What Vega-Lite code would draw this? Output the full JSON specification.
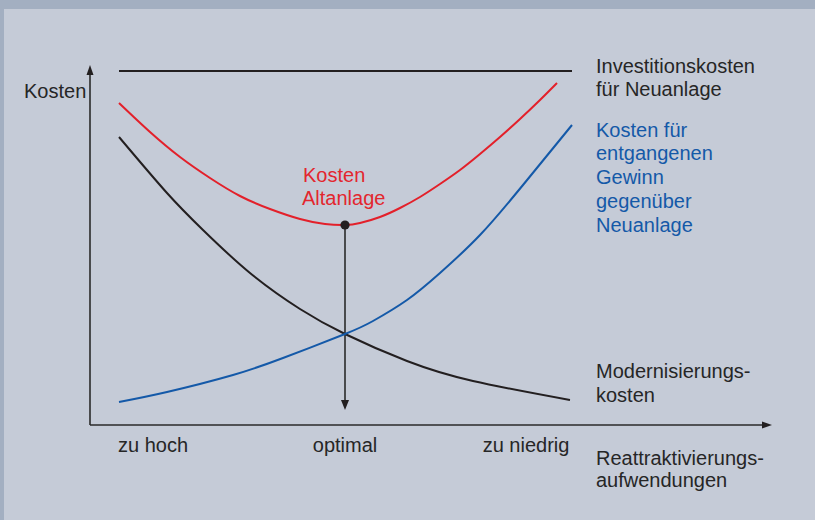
{
  "$schema": "https://vega.github.io/schema/vega-lite/v6.json",
  "width": 815,
  "height": 520,
  "autosize": {"type": "fit", "contains": "padding"},
  "padding": 0,
  "background": "#a3afc1",
  "config": {"view": {"stroke": null}, "axis": {"disable": true}, "legend": {"disable": true}},
  "datasets": {
    "frame": [{"x": -86, "x2": 725, "y": -95, "y2": 416}],
    "curves": [
      {"series": "Kosten Altanlage", "x": 29, "y": 322},
      {"series": "Kosten Altanlage", "x": 60, "y": 293},
      {"series": "Kosten Altanlage", "x": 90, "y": 268},
      {"series": "Kosten Altanlage", "x": 120, "y": 247},
      {"series": "Kosten Altanlage", "x": 150, "y": 229},
      {"series": "Kosten Altanlage", "x": 180, "y": 216},
      {"series": "Kosten Altanlage", "x": 210, "y": 206},
      {"series": "Kosten Altanlage", "x": 235, "y": 201},
      {"series": "Kosten Altanlage", "x": 255, "y": 200},
      {"series": "Kosten Altanlage", "x": 270, "y": 202},
      {"series": "Kosten Altanlage", "x": 290, "y": 208},
      {"series": "Kosten Altanlage", "x": 310, "y": 217},
      {"series": "Kosten Altanlage", "x": 330, "y": 228},
      {"series": "Kosten Altanlage", "x": 350, "y": 241},
      {"series": "Kosten Altanlage", "x": 370, "y": 255},
      {"series": "Kosten Altanlage", "x": 390, "y": 271},
      {"series": "Kosten Altanlage", "x": 410, "y": 288},
      {"series": "Kosten Altanlage", "x": 430, "y": 306},
      {"series": "Kosten Altanlage", "x": 450, "y": 325},
      {"series": "Kosten Altanlage", "x": 467, "y": 342},
      {"series": "Modernisierungskosten", "x": 29, "y": 288},
      {"series": "Modernisierungskosten", "x": 77, "y": 232},
      {"series": "Modernisierungskosten", "x": 113, "y": 195},
      {"series": "Modernisierungskosten", "x": 160, "y": 152},
      {"series": "Modernisierungskosten", "x": 210, "y": 116},
      {"series": "Modernisierungskosten", "x": 255, "y": 91},
      {"series": "Modernisierungskosten", "x": 317, "y": 64},
      {"series": "Modernisierungskosten", "x": 383, "y": 44},
      {"series": "Modernisierungskosten", "x": 480, "y": 25},
      {"series": "Entgangener Gewinn", "x": 29, "y": 23},
      {"series": "Entgangener Gewinn", "x": 77, "y": 33},
      {"series": "Entgangener Gewinn", "x": 143, "y": 50},
      {"series": "Entgangener Gewinn", "x": 193, "y": 67},
      {"series": "Entgangener Gewinn", "x": 255, "y": 91},
      {"series": "Entgangener Gewinn", "x": 283, "y": 104},
      {"series": "Entgangener Gewinn", "x": 317, "y": 125},
      {"series": "Entgangener Gewinn", "x": 350, "y": 152},
      {"series": "Entgangener Gewinn", "x": 390, "y": 190},
      {"series": "Entgangener Gewinn", "x": 433, "y": 240},
      {"series": "Entgangener Gewinn", "x": 482, "y": 300},
      {"series": "Investitionskosten", "x": 29, "y": 354},
      {"series": "Investitionskosten", "x": 482, "y": 354}
    ],
    "rules": [
      {"x": 0, "y": 0, "x2": 0, "y2": 352},
      {"x": 0, "y": 0, "x2": 674, "y2": 0},
      {"x": 255, "y": 200, "x2": 255, "y2": 22}
    ],
    "arrows": [
      {"dir": "up", "x": 0, "y": 355},
      {"dir": "right", "x": 677, "y": 0},
      {"dir": "down", "x": 255, "y": 20}
    ],
    "optimum": [{"x": 255, "y": 200}],
    "labels": [
      {"text": "Kosten", "x": -66, "y": 327, "kind": "black", "align": "left"},
      {"text": "Investitionskosten", "x": 506, "y": 352, "kind": "black", "align": "left"},
      {"text": "für Neuanlage", "x": 506, "y": 329, "kind": "black", "align": "left"},
      {"text": "Kosten für", "x": 506, "y": 288, "kind": "blue", "align": "left"},
      {"text": "entgangenen", "x": 506, "y": 265, "kind": "blue", "align": "left"},
      {"text": "Gewinn", "x": 506, "y": 241, "kind": "blue", "align": "left"},
      {"text": "gegenüber", "x": 506, "y": 217, "kind": "blue", "align": "left"},
      {"text": "Neuanlage", "x": 506, "y": 193, "kind": "blue", "align": "left"},
      {"text": "Kosten", "x": 213, "y": 243, "kind": "red", "align": "left"},
      {"text": "Altanlage", "x": 212, "y": 220, "kind": "red", "align": "left"},
      {"text": "Modernisierungs-", "x": 506, "y": 47, "kind": "black", "align": "left"},
      {"text": "kosten", "x": 506, "y": 23, "kind": "black", "align": "left"},
      {"text": "zu hoch", "x": 63, "y": -27, "kind": "black", "align": "center"},
      {"text": "optimal", "x": 255, "y": -27, "kind": "black", "align": "center"},
      {"text": "zu niedrig", "x": 436, "y": -27, "kind": "black", "align": "center"},
      {"text": "Reattraktivierungs-", "x": 506, "y": -40, "kind": "black", "align": "left"},
      {"text": "aufwendungen", "x": 506, "y": -62, "kind": "black", "align": "left"}
    ]
  },
  "layer": [
    {
      "data": {"name": "frame"},
      "mark": {"type": "rect", "color": "#c5cbd7"},
      "encoding": {
        "x": {"field": "x", "type": "quantitative", "scale": {"domain": [-90, 725], "nice": false, "zero": false}},
        "x2": {"field": "x2"},
        "y": {"field": "y", "type": "quantitative", "scale": {"domain": [-95, 425], "nice": false, "zero": false}},
        "y2": {"field": "y2"}
      }
    },
    {
      "data": {"name": "rules"},
      "mark": {"type": "rule", "color": "#2a2a2a", "strokeWidth": 1.6},
      "encoding": {
        "x": {"field": "x", "type": "quantitative"},
        "x2": {"field": "x2"},
        "y": {"field": "y", "type": "quantitative"},
        "y2": {"field": "y2"}
      }
    },
    {
      "data": {"name": "curves"},
      "mark": {"type": "line", "interpolate": "natural", "strokeWidth": 2},
      "encoding": {
        "x": {"field": "x", "type": "quantitative"},
        "y": {"field": "y", "type": "quantitative"},
        "detail": {"field": "series"},
        "color": {
          "field": "series",
          "type": "nominal",
          "scale": {
            "domain": ["Kosten Altanlage", "Modernisierungskosten", "Entgangener Gewinn", "Investitionskosten"],
            "range": ["#e3202a", "#231f20", "#1459a8", "#231f20"]
          }
        }
      }
    },
    {
      "data": {"name": "arrows"},
      "mark": {"type": "point", "filled": true, "opacity": 1, "size": 100, "color": "#231f20"},
      "encoding": {
        "x": {"field": "x", "type": "quantitative"},
        "y": {"field": "y", "type": "quantitative"},
        "shape": {
          "field": "dir",
          "type": "nominal",
          "scale": {
            "domain": ["up", "right", "down"],
            "range": ["M0,-1L-0.7,1L0.7,1Z", "M1,0L-1,-0.7L-1,0.7Z", "M0,1L-0.8,-1L0.8,-1Z"]
          }
        }
      }
    },
    {
      "data": {"name": "optimum"},
      "mark": {"type": "point", "shape": "circle", "filled": true, "opacity": 1, "size": 85, "color": "#231f20"},
      "encoding": {
        "x": {"field": "x", "type": "quantitative"},
        "y": {"field": "y", "type": "quantitative"}
      }
    },
    {
      "data": {"name": "labels"},
      "transform": [{"filter": "datum.kind === 'black' && datum.align === 'left'"}],
      "mark": {"type": "text", "font": "Liberation Sans", "fontSize": 20, "baseline": "alphabetic", "align": "left", "color": "#262626"},
      "encoding": {
        "x": {"field": "x", "type": "quantitative"},
        "y": {"field": "y", "type": "quantitative"},
        "text": {"field": "text"}
      }
    },
    {
      "data": {"name": "labels"},
      "transform": [{"filter": "datum.kind === 'black' && datum.align === 'center'"}],
      "mark": {"type": "text", "font": "Liberation Sans", "fontSize": 20, "baseline": "alphabetic", "align": "center", "color": "#262626"},
      "encoding": {
        "x": {"field": "x", "type": "quantitative"},
        "y": {"field": "y", "type": "quantitative"},
        "text": {"field": "text"}
      }
    },
    {
      "data": {"name": "labels"},
      "transform": [{"filter": "datum.kind === 'blue'"}],
      "mark": {"type": "text", "font": "Liberation Sans", "fontSize": 20, "baseline": "alphabetic", "align": "left", "color": "#1459a8"},
      "encoding": {
        "x": {"field": "x", "type": "quantitative"},
        "y": {"field": "y", "type": "quantitative"},
        "text": {"field": "text"}
      }
    },
    {
      "data": {"name": "labels"},
      "transform": [{"filter": "datum.kind === 'red'"}],
      "mark": {"type": "text", "font": "Liberation Sans", "fontSize": 20, "baseline": "alphabetic", "align": "left", "color": "#e3262e"},
      "encoding": {
        "x": {"field": "x", "type": "quantitative"},
        "y": {"field": "y", "type": "quantitative"},
        "text": {"field": "text"}
      }
    }
  ]
}
